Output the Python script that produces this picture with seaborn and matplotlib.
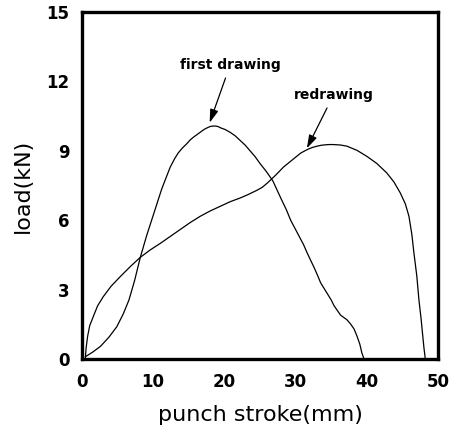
import matplotlib
matplotlib.use("Agg")
import matplotlib.pyplot as plt
import seaborn as sns
import pandas as pd

first_x = [0.47, 1.5, 2.6, 3.8, 4.9, 5.8, 6.6, 7.4, 8.2, 9.1, 10.1, 11.2, 12.4, 13.0, 13.5, 14.1, 14.7, 15.2, 15.7, 16.2, 16.6, 17.0, 17.3, 17.7, 18.0, 18.4, 18.7, 19.1, 19.4, 20.1, 20.8, 21.5, 22.2, 22.9, 23.6, 24.3, 25.0, 25.9, 26.8, 27.4, 28.0, 28.7, 29.3, 29.9, 30.5, 31.1, 31.6, 32.1, 32.6, 33.1, 33.5, 34.0, 34.5, 35.0, 35.4, 35.9, 36.3, 36.75, 37.2, 37.7, 38.2, 38.6, 39.0, 39.3, 39.6]
first_y = [0.1, 0.3, 0.55, 0.95, 1.4, 1.95, 2.55, 3.4, 4.4, 5.35, 6.3, 7.35, 8.3, 8.65, 8.9, 9.12, 9.3, 9.47, 9.6, 9.71, 9.8, 9.89, 9.95, 10.01, 10.05, 10.07, 10.07, 10.05, 10.0, 9.92, 9.8, 9.65, 9.45, 9.25, 9.0, 8.75, 8.45, 8.1, 7.7, 7.3, 6.9, 6.45, 6.0, 5.65, 5.3, 4.95, 4.6, 4.27, 3.95, 3.6, 3.3, 3.05, 2.8, 2.55, 2.3, 2.08, 1.9, 1.8, 1.7, 1.52, 1.3, 1.0, 0.65, 0.26, 0.0]

re_x = [0.47, 0.6, 0.8, 1.1, 1.6, 2.2, 3.0, 4.1, 5.4, 6.8, 8.2, 9.6, 11.0, 12.4, 13.8, 15.2, 16.6, 18.0, 19.4, 20.8, 22.2, 23.4, 24.6, 25.3, 26.0, 27.2, 28.3, 29.5, 30.7, 31.3, 31.8, 32.4, 33.0, 33.6, 34.2, 34.7, 35.3, 35.8, 36.3, 37.2, 38.6, 40.0, 41.4, 42.8, 43.8, 44.7, 45.4, 45.9, 46.3, 46.6, 47.0, 47.3, 47.6, 47.8, 48.0, 48.2]
re_y = [0.0, 0.5, 0.98, 1.45, 1.84, 2.3, 2.7, 3.15, 3.57, 4.0, 4.4, 4.72, 5.0, 5.3, 5.6, 5.9, 6.17, 6.4, 6.6, 6.8, 6.96, 7.12, 7.3, 7.42, 7.6, 7.95, 8.3, 8.6, 8.9, 9.0, 9.08, 9.15, 9.2, 9.24, 9.26, 9.27, 9.27, 9.26, 9.25, 9.2, 9.02, 8.76, 8.45, 8.04, 7.65, 7.17, 6.7, 6.17, 5.4, 4.58, 3.6, 2.56, 1.75, 1.12, 0.5, 0.0]

x_ticks = [0, 10, 20, 30, 40, 50]
y_ticks = [0, 3, 6, 9, 12, 15]

df = pd.concat([
    pd.DataFrame({"x": first_x, "y": first_y, "curve": "first drawing"}),
    pd.DataFrame({"x": re_x, "y": re_y, "curve": "redrawing"}),
])

sns.set_theme(style="white")
plt.rcParams['font.family'] = ['DejaVu Sans']

fig = plt.figure(figsize=(4.55, 4.26), dpi=100)
ax = fig.add_axes([0.180, 0.157, 0.783, 0.815])

sns.lineplot(data=df, x="x", y="y", units="curve", estimator=None, sort=False,
             color="black", linewidth=0.9, ax=ax, legend=False)

ax.set_xlim(0, 50)
ax.set_ylim(0, 15)
ax.set_xticks(x_ticks)
ax.set_yticks(y_ticks)
ax.set_xticklabels([str(t) for t in x_ticks], fontsize=12, fontweight="bold", color="black")
ax.set_yticklabels([str(t) for t in y_ticks], fontsize=12, fontweight="bold", color="black")
ax.tick_params(axis="x", direction="in", length=4, width=1.0, colors="black", pad=10)
ax.tick_params(axis="y", direction="in", length=4, width=1.0, colors="black", pad=9)
for s in ax.spines.values():
    s.set_linewidth(2.4)
    s.set_color("black")
ax.set_xlabel("punch stroke(mm)", fontsize=16, labelpad=10, color="black")
ax.set_ylabel("load(kN)", fontsize=16, labelpad=10, color="black")

arrow = dict(arrowstyle="-|>,head_length=0.8,head_width=0.25", color="black", lw=0.9)
ax.annotate("first drawing", xy=(17.8, 10.1), xytext=(20.8, 12.4),
            fontsize=10, fontweight="bold", ha="center", va="bottom", color="black",
            arrowprops=arrow)
ax.annotate("redrawing", xy=(31.4, 9.0), xytext=(35.3, 11.1),
            fontsize=10, fontweight="bold", ha="center", va="bottom", color="black",
            arrowprops=arrow)

fig.savefig("out.png", dpi=100)
